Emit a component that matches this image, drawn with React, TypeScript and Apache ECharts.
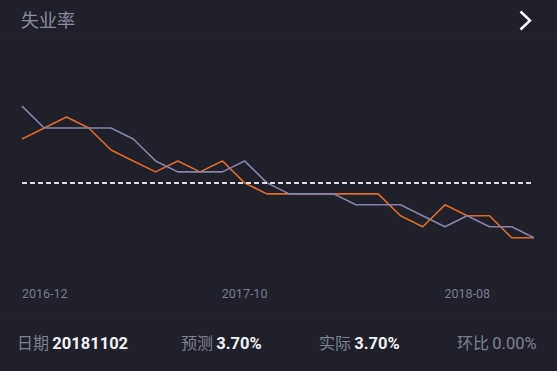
import React, { useEffect, useRef } from "react";
import * as echarts from "echarts";

const months = [
  "2016-12", "2017-01", "2017-02", "2017-03", "2017-04", "2017-05",
  "2017-06", "2017-07", "2017-08", "2017-09", "2017-10", "2017-11",
  "2017-12", "2018-01", "2018-02", "2018-03", "2018-04", "2018-05",
  "2018-06", "2018-07", "2018-08", "2018-09", "2018-10", "2018-11",
];
const forecast = [4.9, 4.7, 4.7, 4.7, 4.7, 4.6, 4.4, 4.3, 4.3, 4.3, 4.4, 4.2, 4.1, 4.1, 4.1, 4.0, 4.0, 4.0, 3.9, 3.8, 3.9, 3.8, 3.8, 3.7];
const actual = [4.6, 4.7, 4.8, 4.7, 4.5, 4.4, 4.3, 4.4, 4.3, 4.4, 4.2, 4.1, 4.1, 4.1, 4.1, 4.1, 4.1, 3.9, 3.8, 4.0, 3.9, 3.9, 3.7, 3.7];
const referenceLevel = [4.2];
const title = "失业率";
const footerItems = [
  { label: "日期", value: "20181102", highlight: true },
  { label: "预测", value: "3.70%", highlight: true },
  { label: "实际", value: "3.70%", highlight: true },
  { label: "环比", value: "0.00%", highlight: false },
];
const footerX = [17, 181, 319, 457];

const FONT = "Roboto, 'Noto Sans CJK SC', sans-serif";

export default function App() {
  const ref = useRef<HTMLDivElement>(null);
  useEffect(() => {
    if (!ref.current) return;
    const chart = echarts.init(ref.current, null, { renderer: "svg" });
    const footerGraphics = footerItems.map((it, i) => ({
      type: "text",
      x: footerX[i],
      y: 343,
      style: {
        text: `{l|${it.label}} {v|${it.value}}`,
        verticalAlign: "middle",
        rich: {
          l: { fontSize: 16, fontFamily: FONT, fill: "#7f8091" },
          v: {
            fontSize: 16.5,
            fontFamily: FONT,
            fontWeight: it.highlight ? "bold" : "normal",
            fill: it.highlight ? "#f2f2f4" : "#7f8091",
          },
        },
      },
    }));
    chart.setOption({
      animation: false,
      backgroundColor: "#1f202a",
      grid: { left: 22, right: 23, top: 95.1, bottom: 371 - 274.5 },
      xAxis: {
        type: "category",
        data: months,
        boundaryGap: false,
        axisLine: { show: true, lineStyle: { color: "#1a1b23", width: 1 } },
        axisTick: { show: false },
        splitLine: { show: false },
        axisLabel: {
          interval: 9,
          color: "#7a7b8b",
          fontSize: 12.5,
          fontFamily: FONT,
          margin: 13,
          alignMinLabel: "left",
        },
      },
      yAxis: {
        type: "value",
        min: 3.365,
        max: 5.0,
        show: false,
        splitLine: { show: false },
      },
      series: [
        {
          type: "line",
          name: "实际",
          data: actual,
          symbol: "none",
          lineStyle: { color: "#db6c2c", width: 1.6 },
          markLine: {
            silent: true,
            symbol: "none",
            label: { show: false },
            lineStyle: { color: "#dcdce0", type: [5, 3], width: 2 },
            data: referenceLevel.map((v) => ({ yAxis: v })),
          },
        },
        {
          type: "line",
          name: "预测",
          data: forecast,
          symbol: "none",
          lineStyle: { color: "#8784ab", width: 1.6 },
        },
      ],
      graphic: [
        {
          type: "rect",
          shape: { x: 0, y: 38, width: 557, height: 1 },
          style: { fill: "#23242f" },
          silent: true,
        },
        {
          type: "rect",
          shape: { x: 0, y: 314, width: 557, height: 1 },
          style: { fill: "#24252f" },
          silent: true,
        },
        {
          type: "text",
          x: 21,
          y: 20.5,
          style: {
            text: title,
            fontSize: 18,
            fontFamily: FONT,
            fill: "#8b8b9d",
            verticalAlign: "middle",
          },
        },
        {
          type: "polyline",
          shape: { points: [[520.5, 11.5], [530, 20.5], [520.5, 29.5]] },
          style: { stroke: "#ffffff", lineWidth: 2.5, fill: "none", lineJoin: "miter" },
        },
        ...footerGraphics,
      ],
    });
    return () => chart.dispose();
  }, []);
  return (
    <div
      ref={ref}
      style={{ position: "fixed", left: 0, top: 0, width: 557, height: 371 }}
    />
  );
}
